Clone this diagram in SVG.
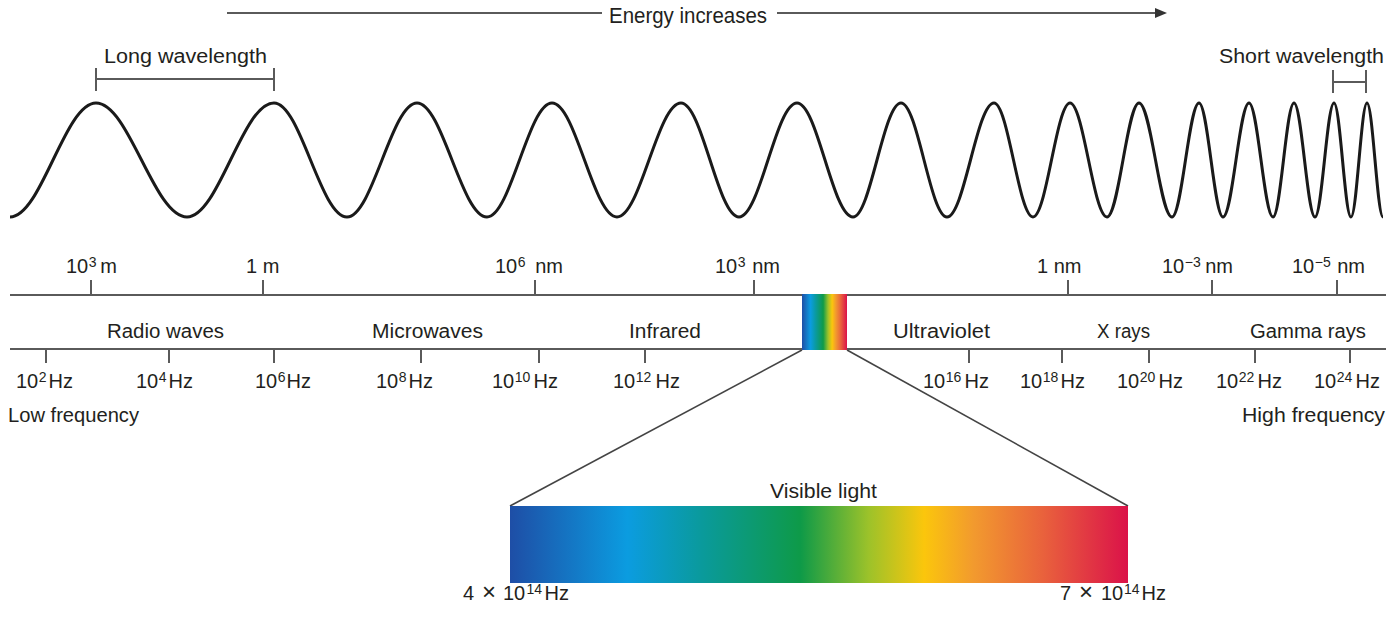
<svg xmlns="http://www.w3.org/2000/svg" width="1393" height="617" viewBox="0 0 1393 617">
<style>
.lbl { font-family: "Liberation Sans", Arial, sans-serif; font-size: 20px; fill: #231f20; }
.sup { font-size: 14px; }
.times { font-size: 24px; }
.axis { stroke: #5a5a5a; stroke-width: 2; fill: none; }
.tick { stroke: #5a5a5a; stroke-width: 2; }
.wave { stroke: #1a1a1a; stroke-width: 3; fill: none; stroke-linejoin: round; }
.brk { stroke: #5a5a5a; stroke-width: 2; fill: none; }
.conn { stroke: #444; stroke-width: 1.6; fill: none; }
</style>
<defs>
<linearGradient id="spec" x1="0" y1="0" x2="1" y2="0">
<stop offset="0" stop-color="#1e4ea6"/>
<stop offset="0.19" stop-color="#0b9ce0"/>
<stop offset="0.31" stop-color="#0a9a9c"/>
<stop offset="0.47" stop-color="#0e9a48"/>
<stop offset="0.58" stop-color="#9cc22a"/>
<stop offset="0.67" stop-color="#fbc60c"/>
<stop offset="0.75" stop-color="#f29a2e"/>
<stop offset="0.86" stop-color="#e9633c"/>
<stop offset="1" stop-color="#db1249"/>
</linearGradient>
<marker id="ah" viewBox="0 0 12 10" refX="2" refY="5" markerWidth="12" markerHeight="10" markerUnits="userSpaceOnUse" orient="auto">
<path d="M0,0 L12,5 L0,10 z" fill="#333"/>
</marker>
</defs>
<rect width="1393" height="617" fill="#fff"/>

<g id="energy-label">
<text class="lbl" x="609" y="23" style="font-size:22px" textLength="158" lengthAdjust="spacingAndGlyphs">Energy increases</text>
</g>

<g id="connectors">
<line class="axis" x1="227" y1="13" x2="602" y2="13"/>
<line class="axis" x1="777" y1="13" x2="1157" y2="13" marker-end="url(#ah)"/>
<line class="conn" x1="802" y1="350" x2="510" y2="506"/>
<line class="conn" x1="847" y1="350" x2="1128" y2="506"/>
</g>

<g id="wave">
<path class="wave" d="M10 217 C41.3 217 64.7 103 96 103 C129.1 103 153.9 217 187 217 C218.6 217 242.4 103 274 103 C300.5 103 320.5 217 347 217 C372.4 217 391.6 103 417 103 C442.4 103 461.6 217 487 217 C510.6 217 528.4 103 552 103 C575.6 103 593.4 217 617 217 C640.3 217 657.7 103 681 103 C702.1 103 717.9 217 739 217 C760.1 217 775.9 103 797 103 C817.4 103 832.6 217 853 217 C870.4 217 883.6 103 901 103 C917.7 103 930.3 217 947 217 C964.1 217 976.9 103 994 103 C1008.2 103 1018.8 217 1033 217 C1046.4 217 1056.6 103 1070 103 C1083.4 103 1093.6 217 1107 217 C1118.6 217 1127.4 103 1139 103 C1151 103 1160 217 1172 217 C1181.8 217 1189.2 103 1199 103 C1207.7 103 1214.3 217 1223 217 C1232.4 217 1239.6 103 1249 103 C1257.7 103 1264.3 217 1273 217 C1280.6 217 1286.4 103 1294 103 C1301.6 103 1307.4 217 1315 217 C1321.9 217 1327.1 103 1334 103 C1340.2 103 1344.8 217 1351 217 C1356.8 217 1361.2 103 1367 103 C1372.8 103 1377.2 217 1383 217"/>
</g>

<g id="long-wavelength">
<text class="lbl" x="104" y="63" textLength="163" lengthAdjust="spacingAndGlyphs">Long wavelength</text>
<path class="brk" d="M96 68 V91 M96 79 H274 M274 68 V91"/>
</g>

<g id="short-wavelength">
<text class="lbl" x="1219" y="63" textLength="165" lengthAdjust="spacingAndGlyphs">Short wavelength</text>
<path class="brk" d="M1333 70 V93 M1333 82 H1366 M1366 70 V93"/>
</g>

<g id="wavelength-axis">
<line class="axis" x1="10" y1="295" x2="1386" y2="295"/>
<path class="tick" d="M91 280 V295 M263 280 V295 M535 280 V295 M754 280 V295 M1068 280 V295 M1212 280 V295 M1337 280 V295"/>
<text class="lbl" y="273"><tspan x="66">10</tspan><tspan class="sup" x="88.8" y="267">3</tspan><tspan x="100.3" y="273">m</tspan></text>
<text class="lbl" x="246" y="273">1 m</text>
<text class="lbl" y="273"><tspan x="495">10</tspan><tspan class="sup" x="517.8" y="267">6</tspan><tspan x="535.2" y="273">nm</tspan></text>
<text class="lbl" y="273"><tspan x="715">10</tspan><tspan class="sup" x="737.8" y="267">3</tspan><tspan x="752.2" y="273">nm</tspan></text>
<text class="lbl" x="1037" y="273">1 nm</text>
<text class="lbl" y="273"><tspan x="1162">10</tspan><tspan class="sup" x="1184.8" y="267">−3</tspan><tspan x="1205.2" y="273">nm</tspan></text>
<text class="lbl" y="273"><tspan x="1292">10</tspan><tspan class="sup" x="1314.8" y="267">−5</tspan><tspan x="1337.2" y="273">nm</tspan></text>
</g>

<g id="bands">
<text class="lbl" x="107" y="338" textLength="117" lengthAdjust="spacingAndGlyphs">Radio waves</text>
<text class="lbl" x="372" y="338" textLength="111" lengthAdjust="spacingAndGlyphs">Microwaves</text>
<text class="lbl" x="629" y="338" textLength="72" lengthAdjust="spacingAndGlyphs">Infrared</text>
<text class="lbl" x="893" y="338" textLength="97" lengthAdjust="spacingAndGlyphs">Ultraviolet</text>
<text class="lbl" x="1097" y="338" textLength="53" lengthAdjust="spacingAndGlyphs">X rays</text>
<text class="lbl" x="1250" y="338" textLength="116" lengthAdjust="spacingAndGlyphs">Gamma rays</text>
</g>

<g id="frequency-axis">
<line class="axis" x1="10" y1="349" x2="1386" y2="349"/>
<path class="tick" d="M46 349 V363 M169 349 V363 M274 349 V363 M421 349 V363 M539 349 V363 M645 349 V363 M969 349 V363 M1062 349 V363 M1149 349 V363 M1255 349 V363 M1350 349 V363"/>
<text class="lbl" y="388"><tspan x="16">10</tspan><tspan class="sup" x="38.8" y="382">2</tspan><tspan x="48.6" y="388">Hz</tspan></text>
<text class="lbl" y="388"><tspan x="136">10</tspan><tspan class="sup" x="158.8" y="382">4</tspan><tspan x="168.6" y="388">Hz</tspan></text>
<text class="lbl" y="388"><tspan x="255">10</tspan><tspan class="sup" x="277.8" y="382">6</tspan><tspan x="286.6" y="388">Hz</tspan></text>
<text class="lbl" y="388"><tspan x="376">10</tspan><tspan class="sup" x="398.8" y="382">8</tspan><tspan x="408.6" y="388">Hz</tspan></text>
<text class="lbl" y="388"><tspan x="492">10</tspan><tspan class="sup" x="514.8" y="382">10</tspan><tspan x="533.6" y="388">Hz</tspan></text>
<text class="lbl" y="388"><tspan x="613">10</tspan><tspan class="sup" x="635.8" y="382">12</tspan><tspan x="655.6" y="388">Hz</tspan></text>
<text class="lbl" y="388"><tspan x="923">10</tspan><tspan class="sup" x="945.8" y="382">16</tspan><tspan x="964.6" y="388">Hz</tspan></text>
<text class="lbl" y="388"><tspan x="1020">10</tspan><tspan class="sup" x="1042.8" y="382">18</tspan><tspan x="1060.6" y="388">Hz</tspan></text>
<text class="lbl" y="388"><tspan x="1117">10</tspan><tspan class="sup" x="1139.8" y="382">20</tspan><tspan x="1158.6" y="388">Hz</tspan></text>
<text class="lbl" y="388"><tspan x="1216">10</tspan><tspan class="sup" x="1238.8" y="382">22</tspan><tspan x="1257.6" y="388">Hz</tspan></text>
<text class="lbl" y="388"><tspan x="1314">10</tspan><tspan class="sup" x="1336.8" y="382">24</tspan><tspan x="1355.6" y="388">Hz</tspan></text>
<text class="lbl" x="8" y="422" textLength="131" lengthAdjust="spacingAndGlyphs">Low frequency</text>
<text class="lbl" x="1242" y="422" textLength="143" lengthAdjust="spacingAndGlyphs">High frequency</text>
</g>

<g id="spectrum-small">
<rect x="802" y="294" width="45" height="56" fill="url(#spec)"/>
</g>

<g id="visible-light">
<text class="lbl" x="770" y="498" textLength="107" lengthAdjust="spacingAndGlyphs">Visible light</text>
<rect x="510" y="506" width="618" height="77" fill="url(#spec)"/>
<text class="lbl" y="600"><tspan x="463">4</tspan><tspan class="times" x="482">×</tspan><tspan x="503">10</tspan><tspan class="sup" x="526.5" y="594">14</tspan><tspan x="544.6" y="600">Hz</tspan></text>
<text class="lbl" y="600"><tspan x="1060">7</tspan><tspan class="times" x="1079">×</tspan><tspan x="1101">10</tspan><tspan class="sup" x="1124" y="594">14</tspan><tspan x="1141.6" y="600">Hz</tspan></text>
</g>
</svg>
